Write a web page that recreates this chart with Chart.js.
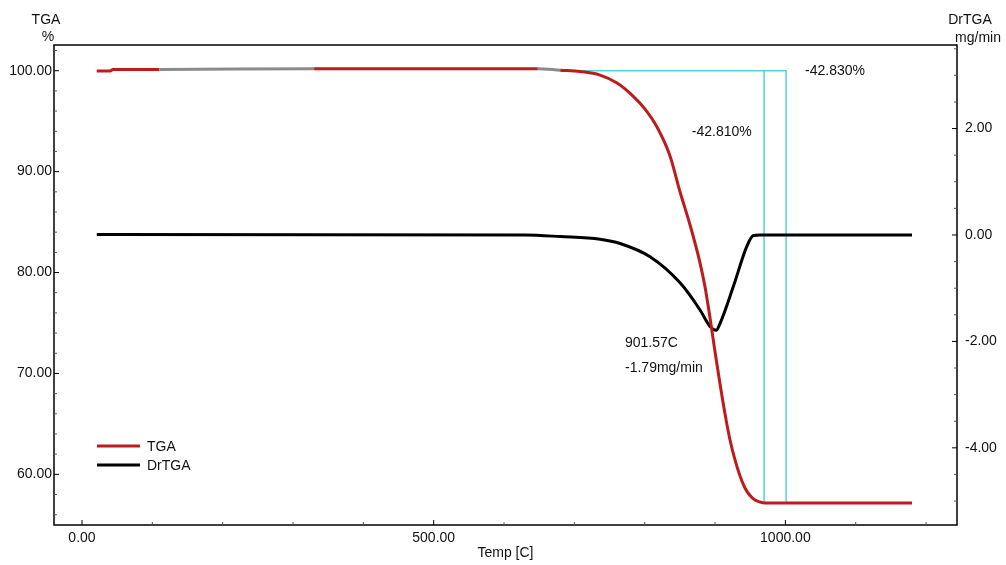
<!DOCTYPE html>
<html>
<head>
<meta charset="utf-8">
<title>TGA / DrTGA</title>
<script src="https://cdn.jsdelivr.net/npm/chart.js@4.4.1/dist/chart.umd.min.js"></script>
<style>
  html, body { margin: 0; padding: 0; background: #fff; }
  #wrap { width: 1006px; height: 565px; position: relative; }
</style>
</head>
<body>
<div id="wrap"><canvas id="graficTGA"></canvas></div>
<script>
// CORBA TGA (%) - temperatures en ºC llegides del gràfic
const tempTGA  = [21, 40, 44, 110, 330, 648, 680, 708, 736.5, 760.7, 783.4, 800.5, 817.5, 836, 850.3, 864.5, 878.7, 885.8, 892.9, 900, 907.1, 914.2, 921.3, 928.4, 935.5, 942.6, 949.7, 956.9, 964, 971.1, 1180];
const valorTGA = [99.98, 99.98, 100.12, 100.12, 100.2, 100.2, 100.05, 99.92, 99.57, 98.78, 97.49, 96.2, 94.42, 91.55, 87.98, 84.71, 80.94, 78.56, 75.49, 72.12, 68.95, 65.98, 63.4, 61.43, 59.84, 58.65, 57.9, 57.45, 57.26, 57.17, 57.17];

// DERIVADA DrTGA (mg/min)
const tempDr  = [21, 630, 680, 736.5, 765, 807.6, 850.3, 878.7, 892.9, 901.57, 907.2, 926, 945, 954.5, 964, 1180];
const valorDr = [0.01, 0, -0.03, -0.08, -0.16, -0.41, -0.90, -1.41, -1.72, -1.79, -1.66, -0.97, -0.22, -0.01, 0, 0];

// Línies de pas (cian): inici horitzontal, dues verticals
const pasTemps   = [680, 969.7, 1001];
const pasNivells = [100, 57.17];

// Etiquetes dels eixos
const ticksTemp = [0, 500, 1000];
const ticksTGA  = [60, 70, 80, 90, 100];
const ticksDr   = [-4, -2, 0, 2];

// Textos d'anotació (posició en unitats de dades)
const anotText = ['-42.830%', '-42.810%', '901.57C', '-1.79mg/min'];
const anotX    = [1028, 867, 772, 772];
const anotY    = [99.97, 93.92, -2.03, -2.50];
const anotEix  = ['yTGA', 'yTGA', 'yDr', 'yDr'];

const FONT = '14px "Liberation Sans", Arial, sans-serif';
const trams_grisos = [[110, 330], [648, 680]];

const punts = (xs, ys) => xs.map((x, i) => ({ x: x, y: ys[i] }));

// línia de pas: horitzontal + verticals, amb forats (null) entre trams
const dadesPas = [
    { x: pasTemps[0], y: pasNivells[0] }, { x: pasTemps[2], y: pasNivells[0] }, { x: pasTemps[2], y: pasNivells[1] },
    { x: pasTemps[2], y: null },
    { x: pasTemps[1], y: pasNivells[0] }, { x: pasTemps[1], y: pasNivells[1] }
];

// marc, marques, títols d'eix, anotacions i llegenda
const dibuixExtra = {
    id: 'dibuixExtra',
    afterDatasetsDraw(chart) {
        const { ctx, chartArea: a, scales } = chart;
        ctx.save();

        ctx.strokeStyle = '#000';
        ctx.lineWidth = 1.5;
        ctx.strokeRect(a.left, a.top, a.right - a.left, a.bottom - a.top);

        const marques = (scale, pas, majors, costat) => {
            const n0 = Math.ceil(scale.min / pas), n1 = Math.floor(scale.max / pas);
            ctx.lineWidth = 1;
            for (let n = n0; n <= n1; n++) {
                const v = +(n * pas).toFixed(4);
                const p = scale.getPixelForValue(v);
                const l = majors.includes(v) ? 5 : 3;
                ctx.strokeStyle = majors.includes(v) ? '#000' : '#555';
                ctx.beginPath();
                if (costat === 'bottom') { ctx.moveTo(p, a.bottom); ctx.lineTo(p, a.bottom - l); }
                if (costat === 'left')   { ctx.moveTo(a.left, p);   ctx.lineTo(a.left + l, p); }
                if (costat === 'right')  { ctx.moveTo(a.right, p);  ctx.lineTo(a.right - l, p); }
                ctx.stroke();
            }
        };
        marques(scales.x, 100, ticksTemp, 'bottom');
        marques(scales.yTGA, 2, ticksTGA, 'left');
        marques(scales.yDr, 0.5, ticksDr, 'right');

        ctx.fillStyle = '#111';
        ctx.font = FONT;
        ctx.textAlign = 'center';
        ctx.textBaseline = 'middle';
        ctx.fillText('TGA', a.left - 8, a.top - 25);
        ctx.fillText('%', a.left - 6, a.top - 8);
        ctx.fillText('DrTGA', a.right + 13, a.top - 25);
        ctx.fillText('mg/min', a.right + 21, a.top - 7);

        ctx.textAlign = 'left';
        anotText.forEach((t, i) => {
            ctx.fillText(t, scales.x.getPixelForValue(anotX[i]), scales[anotEix[i]].getPixelForValue(anotY[i]));
        });

        // llegenda
        const lx = a.left + 43, ly = a.bottom - 79;
        chart.data.datasets.filter(d => d.llegenda).forEach((d, i) => {
            const y = ly + i * 19;
            ctx.strokeStyle = d.borderColor;
            ctx.lineWidth = 3;
            ctx.beginPath(); ctx.moveTo(lx, y); ctx.lineTo(lx + 43, y); ctx.stroke();
            ctx.fillText(d.label, lx + 50, y + 1);
        });
        ctx.restore();
    }
};

const etiquetaFixa = (vals) => (s) => { s.ticks = vals.map(v => ({ value: v })); };

new Chart(document.getElementById('graficTGA'), {
    type: 'line',
    data: {
        datasets: [
            {
                label: 'TGA', llegenda: true,
                data: punts(tempTGA, valorTGA),
                yAxisID: 'yTGA',
                borderColor: '#bd1b1d', borderWidth: 3,
                cubicInterpolationMode: 'monotone',
                pointRadius: 0, order: 1,
                segment: {
                    borderColor: c => trams_grisos.some(([p, q]) => c.p0.parsed.x >= p && c.p1.parsed.x <= q) ? '#8a8a8a' : undefined
                }
            },
            {
                label: 'DrTGA', llegenda: true,
                data: punts(tempDr, valorDr),
                yAxisID: 'yDr',
                borderColor: '#000', borderWidth: 3,
                cubicInterpolationMode: 'monotone',
                pointRadius: 0, order: 2
            },
            {
                label: 'pas',
                data: dadesPas,
                yAxisID: 'yTGA',
                borderColor: '#55d3d3', borderWidth: 1.5,
                spanGaps: false, tension: 0,
                pointRadius: 0, order: 3
            }
        ]
    },
    options: {
        responsive: true,
        maintainAspectRatio: false,
        animation: false,
        layout: { padding: { top: 45, left: 0, right: 0, bottom: 0 } },
        plugins: { legend: { display: false }, tooltip: { enabled: false } },
        scales: {
            x: {
                type: 'linear', min: -39.8, max: 1244,
                grid: { display: false, drawTicks: false },
                border: { display: false },
                afterBuildTicks: etiquetaFixa(ticksTemp),
                afterFit: s => { s.height = 40; },
                ticks: { color: '#111', font: { family: '"Liberation Sans", Arial', size: 14 }, padding: 5, maxRotation: 0, autoSkip: false,
                         callback: v => v.toFixed(2) },
                title: { display: true, text: 'Temp [C]', color: '#111', font: { family: '"Liberation Sans", Arial', size: 14 }, padding: { top: 0, bottom: 3 } }
            },
            yTGA: {
                type: 'linear', position: 'left', min: 54.98, max: 102.55,
                grid: { display: false, drawTicks: false },
                border: { display: false },
                afterBuildTicks: etiquetaFixa(ticksTGA),
                afterFit: s => { s.width = 54; },
                ticks: { color: '#111', font: { family: '"Liberation Sans", Arial', size: 14 }, padding: 2,
                         callback: v => v.toFixed(2) }
            },
            yDr: {
                type: 'linear', position: 'right', min: -5.45, max: 3.57,
                grid: { display: false, drawTicks: false },
                border: { display: false },
                afterBuildTicks: etiquetaFixa(ticksDr),
                afterFit: s => { s.width = 49; },
                ticks: { color: '#111', font: { family: '"Liberation Sans", Arial', size: 14 }, padding: 8,
                         callback: v => v.toFixed(2) }
            }
        }
    },
    plugins: [dibuixExtra]
});
</script>
</body>
</html>
